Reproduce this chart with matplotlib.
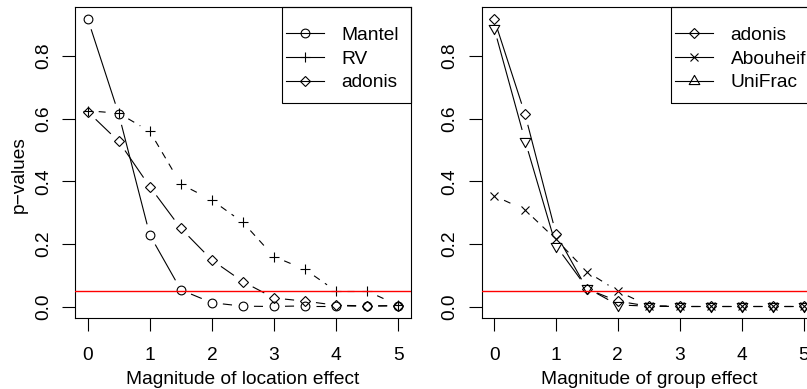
import numpy as np
import matplotlib
matplotlib.use("Agg")
import matplotlib.pyplot as plt
from matplotlib.path import Path
from matplotlib.lines import Line2D
from matplotlib.patches import Rectangle

# ---------------- data ----------------
effect = [0, 0.5, 1, 1.5, 2, 2.5, 3, 3.5, 4, 4.5, 5]
xticks = [0, 1, 2, 3, 4, 5]
yticks = [0.0, 0.2, 0.4, 0.6, 0.8]
ytick_labels = ["0.0", "0.2", "0.4", "0.6", "0.8"]

# left panel: location effect
mantel = [0.918, 0.614, 0.229, 0.054, 0.013, 0.002, 0.001, 0.003, 0.003, 0.002, 0.003]
rv = [0.625, 0.617, 0.559, 0.391, 0.340, 0.269, 0.160, 0.119, 0.050, 0.050, 0.005]
adonis_loc = [0.622, 0.527, 0.383, 0.250, 0.149, 0.080, 0.028, 0.018, 0.005, 0.003, 0.004]

# right panel: group effect
adonis_grp = [0.918, 0.614, 0.233, 0.057, 0.018, 0.002, 0.001, 0.001, 0.001, 0.001, 0.001]
abouheif = [0.354, 0.309, 0.215, 0.112, 0.050, 0.003, 0.002, 0.002, 0.002, 0.002, 0.002]
unifrac = [0.889, 0.530, 0.195, 0.060, 0.006, 0.002, 0.001, 0.001, 0.001, 0.001, 0.001]

left_labels = ["Mantel", "RV", "adonis"]
right_labels = ["adonis", "Abouheif", "UniFrac"]
xlabel_left = "Magnitude of location effect"
xlabel_right = "Magnitude of group effect"
ylabel = "p\u2212values"
threshold = 0.05

# ---------------- style ----------------
plt.rcParams["font.family"] = ["Liberation Sans", "DejaVu Sans"]
FS = 13.8
plt.rcParams["font.size"] = FS
plt.rcParams["lines.scale_dashes"] = False

W, H = 807, 389
fig = plt.figure(figsize=(W / 100, H / 100), dpi=100)
fig.patch.set_facecolor("white")

LW = 0.8
GAP = 11.0          # px gap around points (R type="b")
DASH = (5.0, 4.5)   # points

TRC0 = np.sqrt(4 * np.pi / (3 * np.sqrt(3)))
TRC1 = TRC0 * np.sqrt(3) / 2
TRC2 = TRC0 / 2
tri_up = Path([(0, TRC0), (TRC1, -TRC2), (-TRC1, -TRC2), (0, TRC0)],
              [Path.MOVETO, Path.LINETO, Path.LINETO, Path.CLOSEPOLY])
tri_down = Path([(0, -TRC0), (TRC1, TRC2), (-TRC1, TRC2), (0, -TRC0)],
                [Path.MOVETO, Path.LINETO, Path.LINETO, Path.CLOSEPOLY])

MK = {
    "circle": dict(marker="o", ms=6.3),
    "plus": dict(marker="+", ms=7.8),
    "diamond": dict(marker="D", ms=5.6),
    "cross": dict(marker="x", ms=6.3),
    "tri_up": dict(marker=tri_up, ms=8.8),
    "tri_down": dict(marker=tri_down, ms=8.8),
}


def fx(px):
    return px / W


def fy(py):
    return 1 - py / H


def make_axes(x0, x1, y0, y1, yvals):
    ax = fig.add_axes([x0 / W, 1 - y1 / H, (x1 - x0) / W, (y1 - y0) / H])
    ax.set_xlim(-0.2, 5.2)
    lo = min(min(v) for v in yvals)
    hi = max(max(v) for v in yvals)
    r = hi - lo
    ax.set_ylim(lo - 0.04 * r, hi + 0.04 * r)
    for s in ax.spines.values():
        s.set_linewidth(LW)
        s.set_color("black")
    ax.set_xticks(xticks)
    ax.set_xticklabels([str(t) for t in xticks])
    ax.set_yticks(yticks)
    ax.set_yticklabels(ytick_labels)
    ax.tick_params(axis="both", direction="out", length=9.2, width=LW, colors="black",
                   labelsize=FS)
    ax.tick_params(axis="x", pad=11.5)
    ax.tick_params(axis="y", pad=7.5)
    for lab in ax.get_yticklabels():
        lab.set_rotation(90)
        lab.set_va("center")
    return ax


def draw_b(ax, x, y, mk, dashed):
    pts = ax.transData.transform(np.column_stack([x, y]))
    inv = ax.transData.inverted()
    for p0, p1 in zip(pts[:-1], pts[1:]):
        d = p1 - p0
        L = np.hypot(d[0], d[1])
        if L <= 2 * GAP:
            continue
        a = p0 + d * GAP / L
        b = p1 - d * GAP / L
        seg = inv.transform(np.array([a, b]))
        kw = dict(color="black", lw=LW, solid_capstyle="butt", dash_capstyle="butt")
        if dashed:
            ax.plot(seg[:, 0], seg[:, 1], dashes=DASH, **kw)
        else:
            ax.plot(seg[:, 0], seg[:, 1], **kw)
    ax.plot(x, y, ls="none", mfc="none", mec="black", mew=LW, **MK[mk])


def legend(box_left, box_right, labels, mks):
    top, bottom = 7.3, 102.7
    rect = Rectangle((fx(box_left), fy(bottom)), fx(box_right) - fx(box_left),
                     fy(top) - fy(bottom), transform=fig.transFigure, fill=False,
                     ec="black", lw=LW, clip_on=False)
    fig.add_artist(rect)
    rows = [33.3, 57.0, 80.5]
    for ry, lab, mk in zip(rows, labels, mks):
        fig.add_artist(Line2D([fx(box_left + 4), fx(box_left + 42)], [fy(ry), fy(ry)],
                              transform=fig.transFigure, color="black", lw=LW))
        fig.add_artist(Line2D([fx(box_left + 23)], [fy(ry)], transform=fig.transFigure,
                              ls="none", mfc="none", mec="black", mew=LW, **MK[mk]))
        fig.text(fx(box_left + 60), fy(ry + 6.9), lab, ha="left", va="baseline",
                 fontsize=FS, color="black")


# ---------------- left panel ----------------
axL = make_axes(75.3, 410.6, 7.3, 318.0, [mantel, rv, adonis_loc])
draw_b(axL, effect, mantel, "circle", dashed=False)
draw_b(axL, effect, rv, "plus", dashed=True)
draw_b(axL, effect, adonis_loc, "diamond", dashed=False)
axL.axhline(threshold, color="#FF0000", lw=1.0, zorder=3)
axL.set_xlabel(xlabel_left, fontsize=FS, labelpad=5)
fig.text(fx(19), fy(175), ylabel, rotation=90, ha="center", va="center", fontsize=FS)
legend(281.7, 410.6, left_labels, ["circle", "plus", "diamond"])

# ---------------- right panel ----------------
axR = make_axes(481.7, 815.9, 7.3, 318.0, [adonis_grp, abouheif, unifrac])
draw_b(axR, effect, adonis_grp, "diamond", dashed=False)
draw_b(axR, effect, abouheif, "cross", dashed=True)
draw_b(axR, effect, unifrac, "tri_down", dashed=False)
axR.axhline(threshold, color="#FF0000", lw=1.0, zorder=3)
axR.set_xlabel(xlabel_right, fontsize=FS, labelpad=5)
legend(670.7, 815.9, right_labels, ["diamond", "cross", "tri_up"])

fig.savefig("out.png", dpi=100, facecolor="white")
